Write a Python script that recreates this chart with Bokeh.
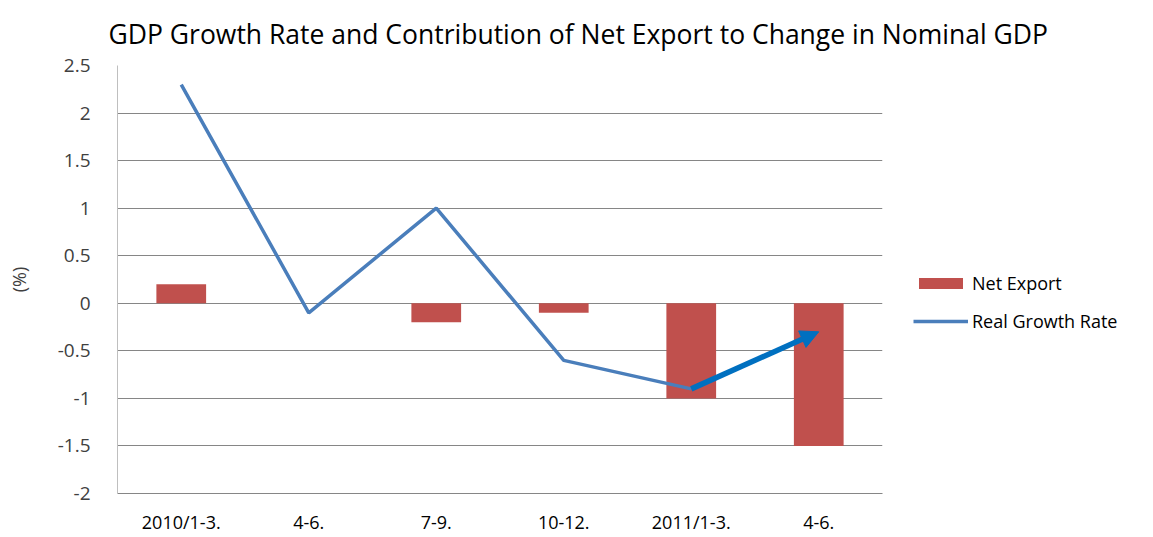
from bokeh.plotting import figure
from bokeh.models import (FixedTicker, NumeralTickFormatter, Range1d, Title,
                          Legend, LegendItem, Arrow, NormalHead)
from bokeh.embed import file_html
from bokeh.resources import INLINE

# ---- data ----
categories = ["2010/1-3.", "4-6.", "7-9.", "10-12.", "2011/1-3.", "4-6."]
net_export = [0.2, 0.0, -0.2, -0.1, -1.0, -1.5]
real_growth = [2.3, -0.1, 1.0, -0.6, -0.9]
growth_projection = -0.3
y_ticks = [-2, -1.5, -1, -0.5, 0, 0.5, 1, 1.5, 2, 2.5]
title_text = "GDP Growth Rate and Contribution of Net Export to Change in Nominal GDP"

xpos = [i + 0.5 for i in range(len(categories))]
FONT = "Open Sans"
TXT = "#404040"

p = figure(frame_width=765, frame_height=428,
           min_border_left=117, min_border_right=263,
           min_border_top=65, min_border_bottom=44,
           x_range=Range1d(0, len(categories)), y_range=Range1d(-2, 2.5),
           output_backend="svg", toolbar_location=None)
p.outline_line_color = None
p.background_fill_color = "white"

# bars
r_bar = p.vbar(x=xpos, top=net_export, bottom=0, width=0.39,
               fill_color="#c0504d", line_color=None)
# line
r_line = p.line(xpos[:len(real_growth)], real_growth, line_width=3.5,
                line_color="#4a7ebb")
# arrow to projection
p.add_layout(Arrow(end=NormalHead(size=18, fill_color="#0070c0", line_color="#0070c0"),
                   x_start=xpos[len(real_growth) - 1], y_start=real_growth[-1],
                   x_end=xpos[len(real_growth)], y_end=growth_projection,
                   line_width=5.5, line_color="#0070c0"))

# axes
p.xgrid.visible = False
p.ygrid.grid_line_color = "#868686"
p.ygrid.grid_line_width = 1

p.yaxis.ticker = FixedTicker(ticks=y_ticks)
p.yaxis.formatter = NumeralTickFormatter(format="0.[0]")
p.yaxis.axis_line_color = "#bfbfbf"
p.yaxis.major_tick_line_color = None
p.yaxis.minor_tick_line_color = None
p.yaxis.major_label_text_font = FONT
p.yaxis.major_label_text_font_size = "19px"
p.yaxis.major_label_text_color = TXT
p.yaxis.major_label_standoff = 21
p.yaxis.axis_label = "(%)"
p.yaxis.axis_label_text_font = FONT
p.yaxis.axis_label_text_font_size = "18px"
p.yaxis.axis_label_text_font_style = "normal"
p.yaxis.axis_label_text_color = TXT
p.yaxis.axis_label_standoff = 24

p.xaxis.ticker = FixedTicker(ticks=xpos)
p.xaxis.major_label_overrides = {x: c for x, c in zip(xpos, categories)}
p.xaxis.axis_line_color = "#868686"
p.xaxis.major_tick_line_color = None
p.xaxis.minor_tick_line_color = None
p.xaxis.major_label_text_font = FONT
p.xaxis.major_label_text_font_size = "18px"
p.xaxis.major_label_text_color = "black"
p.xaxis.major_label_standoff = 10

# title
p.title = Title(text=title_text, align="left", offset=-9, text_font=FONT,
                text_font_size="26.5px", text_font_style="normal", text_color="black",
                standoff=27)

# legend (right side panel)
legend = Legend(items=[LegendItem(label="Net Export", renderers=[r_bar]),
                       LegendItem(label="Real Growth Rate", renderers=[r_line])],
                location=(31, 160), glyph_width=55, glyph_height=14, spacing=14,
                padding=0, margin=0, border_line_color=None, background_fill_alpha=0,
                label_text_font=FONT, label_text_font_size="18px", label_text_color="black",
                label_height=14, label_standoff=4)
p.add_layout(legend, "right")

open("out.html", "w").write(file_html(p, INLINE))
